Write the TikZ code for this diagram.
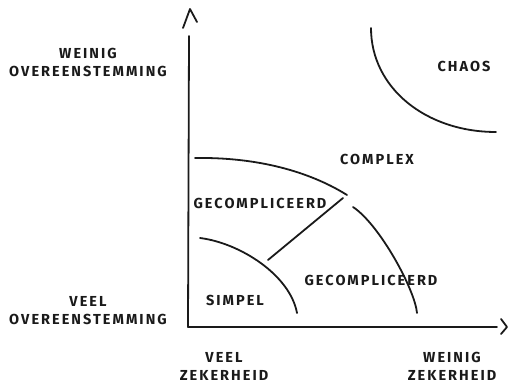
\documentclass[tikz,border=0pt]{standalone}
\usepackage{fontspec}
\setmainfont{Fira Sans}[LetterSpace=14]
\usetikzlibrary{arrows.meta}
\definecolor{ink}{HTML}{1A1A1A}
\begin{document}
\begin{tikzpicture}[x=1pt,y=-1pt,
  lbl/.style={font=\fontsize{14.5}{17}\selectfont\bfseries, text=ink, align=center, inner sep=0pt},
  stroke/.style={draw=ink, line width=1.8pt, line cap=round, line join=round},
  barb/.style={draw=ink, line width=1.8pt, line cap=round, line join=round}]
\useasboundingbox (0,0) rectangle (508,387);

% axes
\coordinate (origin) at (188,327);
\coordinate (ytop) at (189,36);
\coordinate (xend) at (497,327);
\draw[stroke] (origin) -- (ytop);
\draw[stroke] (origin) -- (xend);

% open arrowheads at the axis ends
\coordinate (ytip) at (190,9);
\coordinate (xtip) at (507,327);
\draw[barb] ([shift={(-7,19)}]ytip) -- (ytip) -- ([shift={(7,13)}]ytip);
\draw[barb] ([shift={(-6,-8)}]xtip) -- (xtip) -- ([shift={(-6,7)}]xtip);

% region boundaries
\coordinate (gtopA) at (195,158);
\coordinate (gtopB) at (347,195);
\draw[stroke] (gtopA) .. controls (265,157) and (315,175) .. (gtopB);

\coordinate (cplxA) at (353,207);
\coordinate (cplxB) at (417,313);
\draw[stroke] (cplxA) .. controls (380,225) and (415,290) .. (cplxB);

\coordinate (simA) at (200,238);
\coordinate (simB) at (297,313);
\draw[stroke] (simA) .. controls (240,243) and (290,275) .. (simB);

\coordinate (diagA) at (268,260);
\coordinate (diagB) at (343,198);
\draw[stroke] (diagA) -- (diagB);

\coordinate (chaosA) at (371,28);
\coordinate (chaosB) at (496,132);
\draw[stroke] (chaosA) .. controls (371,88) and (426,132) .. (chaosB);

% axis labels
\node[lbl] (yhigh) at (88,62) {WEINIG\\[1pt]OVEREENSTEMMING};
\node[lbl] (ylow) at (88,311) {VEEL\\[1pt]OVEREENSTEMMING};
\node[lbl] (xlow) at (224,366) {VEEL\\[1pt]ZEKERHEID};
\node[lbl] (xhigh) at (452,366) {WEINIG\\[1pt]ZEKERHEID};

% region labels
\node[lbl] (chaos) at (464,66) {CHAOS};
\node[lbl] (complex) at (377,159) {COMPLEX};
\node[lbl] (gecA) at (260,203) {GECOMPLICEERD};
\node[lbl] (gecB) at (371,280) {GECOMPLICEERD};
\node[lbl] (simpel) at (235,300) {SIMPEL};
\end{tikzpicture}
\end{document}
